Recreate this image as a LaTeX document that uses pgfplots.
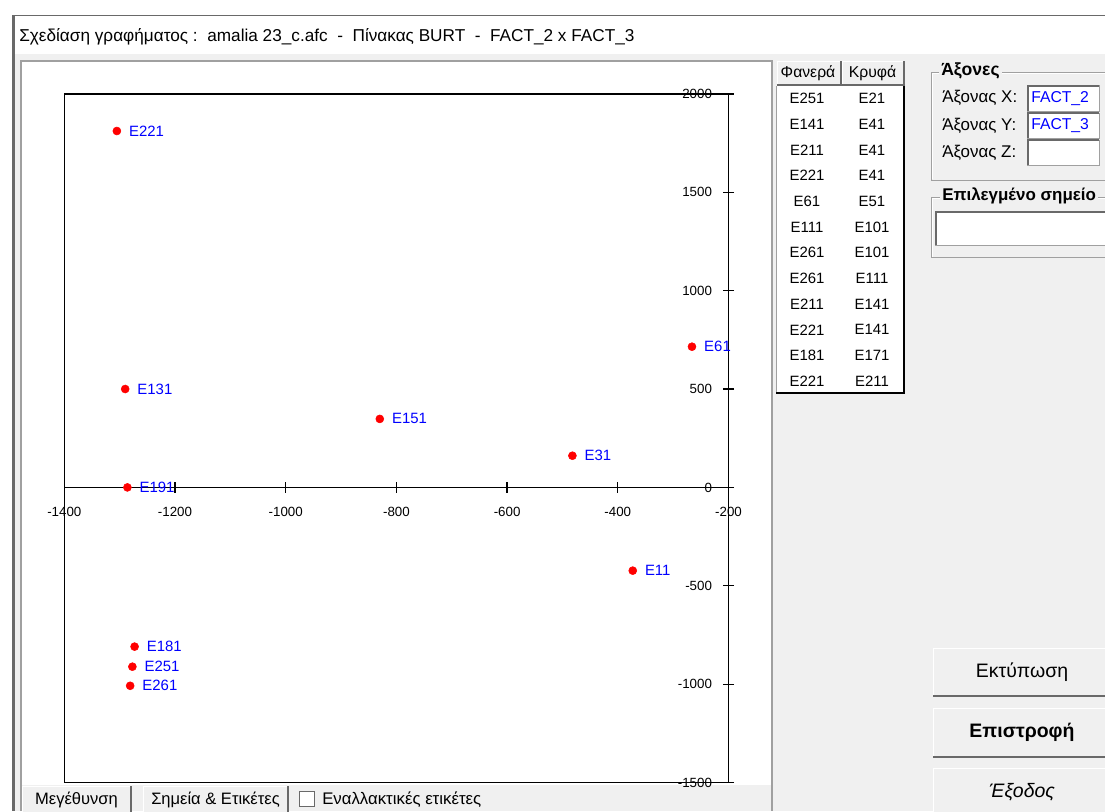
\documentclass[border=0pt]{standalone}
\usepackage{pgfplots}
\usepackage{pgfplotstable}
\pgfplotsset{compat=1.18}
\usepackage{fontspec}
\setmainfont{Liberation Sans}
\definecolor{win}{HTML}{F0F0F0}
\definecolor{bd}{HTML}{A0A0A0}
\definecolor{dk}{HTML}{696969}
\definecolor{lbl}{HTML}{0000FF}

\pgfplotstableread{
x y label
-1305 1811 E221
-1290 500 E131
-1286 0 E191
-830 348 E151
-482 161 E31
-266 715 E61
-373 -423 E11
-1273 -809 E181
-1277 -911 E251
-1281 -1008 E261
}\pts

\begin{document}
\begin{tikzpicture}
\path[use as bounding box] (0pt,0pt) rectangle (828.75pt,-608.25pt);
\clip (0pt,0pt) rectangle (828.75pt,-608.25pt);
\begin{scope}[x=0.75pt,y=-0.75pt]
 \fill[win] (0,0) rectangle (1105,811);
 \fill[white] (0,0) rectangle (1105,15);
 \fill[white] (0,0) rectangle (12,811);
 \fill[white] (14,15) rectangle (1105,54);
 \draw[dk, line width=0.75pt] (12,15.5) -- (1105,15.5);
 \fill[dk] (11.5,15) rectangle (14.5,811);
 \node[anchor=west, inner sep=0, font=\fontsize{12.9}{15}\selectfont] at (19,37) {Σχεδίαση γραφήματος :\ \ amalia 23\_c.afc\ \ -\ \ Πίνακας BURT\ \ -\ \ FACT\_2 x FACT\_3};
 % plot panel
 \fill[white] (21,61) rectangle (772,785);
 \draw[bd, line width=1.5pt] (21,811) -- (21,61) -- (772,61) -- (772,811);
 % table
 \fill[white] (776,86) rectangle (904,393);
 \draw[bd, line width=0.75pt] (776,86) -- (776,393);
 \draw[black, line width=1.5pt] (776,393) -- (904,393) -- (904,61);
 \foreach \a/\b in {777/840.5,842/903.5}{
   \fill[win] (\a,61) rectangle (\b,85);
   \draw[white, line width=0.75pt] (\a,85) -- (\a,61.5) -- (\b,61.5);
   \draw[dk, line width=1.5pt] (\a,85) -- (\b,85) -- (\b,61);
 }
 \node[font=\fontsize{11.8}{13}\selectfont, inner sep=0] at (808,73) {Φανερά};
 \node[font=\fontsize{11.8}{13}\selectfont, inner sep=0] at (872.5,73) {Κρυφά};
 \foreach \a/\b [count=\i from 0] in {E251/E21,E141/E41,E211/E41,E221/E41,E61/E51,E111/E101,E261/E101,E261/E111,E211/E141,E221/E141,E181/E171,E221/E211}{
   \node[font=\fontsize{11.2}{13}\selectfont, inner sep=0] at (807,98.5+25.7*\i) {\a};
   \node[font=\fontsize{11.2}{13}\selectfont, inner sep=0] at (872,98.5+25.7*\i) {\b};
 }
 % group Axes
 \draw[bd, line width=0.75pt] (1105,72.5) -- (931,72.5) -- (931,180) -- (1105,180);
 \draw[white, line width=0.75pt] (1105,73.5) -- (932,73.5) -- (932,179) ;
 \node[fill=win, anchor=west, inner xsep=1.5pt, inner ysep=0, font=\bfseries\fontsize{13.2}{15}\selectfont] at (939,71) {Άξονες};
 \foreach \lab/\val/\yy in {X/FACT\_2/98.3,Y/FACT\_3/125.7,Z//152.5}{
   \node[anchor=west, inner sep=0, font=\fontsize{12.7}{15}\selectfont] at (942,\yy) {Άξονας \lab:};
   \fill[white] (1027,\yy-13) rectangle (1099,\yy+13);
   \draw[dk, line width=1.5pt] (1027.5,\yy+13) -- (1027.5,\yy-12.5) -- (1099,\yy-12.5);
   \draw[bd, line width=0.75pt] (1099,\yy-13) -- (1099,\yy+13) -- (1027,\yy+13);
   \node[anchor=west, inner sep=0, text=lbl, font=\fontsize{11.8}{14}\selectfont] at (1031,\yy) {\val};
 }
 % group selected point
 \draw[bd, line width=0.75pt] (1105,197) -- (931,197) -- (931,257.5) -- (1105,257.5);
 \draw[white, line width=0.75pt] (1105,198) -- (932,198) -- (932,256.5);
 \node[fill=win, anchor=west, inner xsep=1.5pt, inner ysep=0, font=\bfseries\fontsize{12.7}{15}\selectfont] at (940,196) {Επιλεγμένο σημείο};
 \fill[white] (935,211) rectangle (1105,245);
 \draw[dk, line width=1.5pt] (935.5,245) -- (935.5,211.5) -- (1105,211.5);
 \draw[bd, line width=0.75pt] (935,245) -- (1105,245);
 % right buttons
 \foreach \ya/\yb/\txt in {648/696/{Εκτύπωση},708/757/{\bfseries Επιστροφή},768/830/{\itshape Έξοδος}}{
   \fill[win] (933,\ya) rectangle (1110,\yb);
   \draw[white, line width=1pt] (933.5,\yb) -- (933.5,\ya+0.5) -- (1110,\ya+0.5);
   \draw[dk, line width=1.5pt] (933,\yb-0.5) -- (1110,\yb-0.5);
 }
 \node[font=\fontsize{14.6}{17}\selectfont, inner sep=0] at (1022,672) {Εκτύπωση};
 \node[font=\bfseries\fontsize{14.6}{17}\selectfont, inner sep=0] at (1022,732.5) {Επιστροφή};
 \node[font=\itshape\fontsize{14.6}{17}\selectfont, inner sep=0] at (1022,792) {Έξοδος};
 % bottom buttons
 \foreach \xa/\xb/\txt in {22/131/{Μεγέθυνση},143/288/{Σημεία \& Ετικέτες}}{
   \fill[win] (\xa,786) rectangle (\xb,815);
   \draw[white, line width=1pt] (\xa+0.5,815) -- (\xa+0.5,786.5) -- (\xb,786.5);
   \draw[dk, line width=1.5pt] (\xb-0.5,786) -- (\xb-0.5,815);
   \node[font=\fontsize{12.4}{14}\selectfont, inner sep=0] at ({(\xa+\xb)/2},799.5) {\txt};
 }
 \fill[white] (299,791) rectangle (315,807);
 \draw[dk, line width=0.75pt] (299.5,791.5) rectangle (314.5,806.5);
 \node[anchor=west, inner sep=0, font=\fontsize{12.6}{14}\selectfont] at (322,800) {Εναλλακτικές ετικέτες};
\end{scope}
\begin{axis}[
 at={(48.225pt,-586.95pt)}, anchor=south west,
 scale only axis, width=498.15pt, height=516.6pt,
 xmin=-1400, xmax=-200, ymin=-1500, ymax=2000,
 axis x line=middle, axis y line=right,
 x axis line style={-}, y axis line style={-},
 axis line style={black, line width=1.1pt},
 xtick={-1400,-1200,...,-200}, ytick={-1500,-1000,...,2000},
 tick align=center, major tick length=8.25pt,
 tick style={black, line width=1pt},
 hide obscured x ticks=false, hide obscured y ticks=false,
 /pgf/number format/assume math mode=true,
 /pgf/number format/1000 sep={},
 ticklabel style={font=\fontsize{10}{12}\selectfont},
 xticklabel style={yshift=-7pt},
 yticklabel style={anchor=east, xshift=-13pt},
 clip=false,
]
\draw[black, line width=1.1pt] (rel axis cs:1.008,1) -- (rel axis cs:0,1) -- (rel axis cs:0,0) -- (rel axis cs:1.008,0);
\addplot[only marks, mark=*, mark size=3pt, red,
  nodes near coords, point meta=explicit symbolic,
  every node near coord/.append style={anchor=west, text=lbl, inner sep=0pt, xshift=9pt, font=\fontsize{11.2}{13}\selectfont}]
  table[x=x, y=y, meta=label] {\pts};
\end{axis}
\end{tikzpicture}
\end{document}
